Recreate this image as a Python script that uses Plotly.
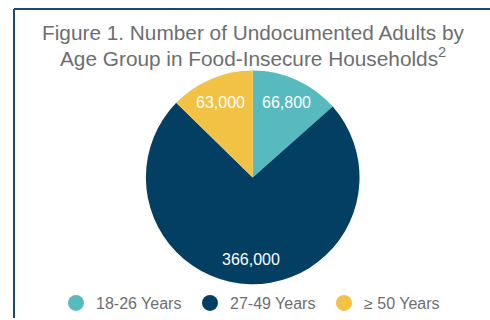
import math
import plotly.graph_objects as go

groups = ["18-26 Years", "27-49 Years", "≥ 50 Years"]
counts = [66800, 366000, 63000]
colors = ["#56BABF", "#033F63", "#F2C244"]
title_lines = ["Figure 1. Number of Undocumented Adults by",
               "Age Group in Food-Insecure Households<sup>2</sup>"]

W, H = 490, 320
font_family = "Liberation Sans, Arial, sans-serif"
gray = "#6D6E71"

# pie geometry (pixels)
px0, px1, py0, py1 = 144.7, 360.7, 71, 286
cx, cy = (px0 + px1) / 2, (py0 + py1) / 2
R = (py1 - py0) / 2

fig = go.Figure()
fig.add_trace(go.Pie(
    labels=groups, values=counts, sort=False, direction="clockwise", rotation=0,
    marker=dict(colors=colors, line=dict(width=0)),
    textinfo="none", showlegend=False, hoverinfo="label+value",
    domain=dict(x=[px0 / W, px1 / W], y=[1 - py1 / H, 1 - py0 / H]),
))
for g, c in zip(groups, colors):
    fig.add_trace(go.Scatter(x=[None], y=[None], mode="markers", name=g,
                             marker=dict(color=c, size=17, symbol="circle")))

annotations = []
for line, yc in zip(title_lines, [32.5, 57.5]):
    annotations.append(dict(text=line, xref="paper", yref="paper", x=253 / W, y=1 - yc / H,
                            xanchor="center", yanchor="middle", showarrow=False,
                            font=dict(size=20.8, color=gray, family=font_family)))

# value labels at 0.76 R along each slice's mid-angle (clockwise from 12 o'clock)
total = sum(counts)
cum = 0
for v in counts:
    mid = (cum + v / 2) / total * 2 * math.pi
    cum += v
    lx = cx + 0.765 * R * math.sin(mid)
    ly = cy - 0.765 * R * math.cos(mid)
    annotations.append(dict(text=f"{v:,}", xref="paper", yref="paper", x=lx / W, y=1 - ly / H,
                            xanchor="center", yanchor="middle", showarrow=False,
                            font=dict(size=16, color="white", family=font_family)))

fig.update_layout(
    width=W, height=H, margin=dict(l=0, r=0, t=0, b=0),
    paper_bgcolor="white", plot_bgcolor="white",
    font=dict(family=font_family, color=gray),
    xaxis=dict(visible=False), yaxis=dict(visible=False),
    annotations=annotations,
    legend=dict(orientation="h", x=56 / W, xanchor="left", y=1 - 305 / H, yanchor="middle",
                font=dict(size=16, color=gray, family=font_family),
                entrywidth=89, entrywidthmode="pixels", bgcolor="rgba(0,0,0,0)"),
    shapes=[
        dict(type="line", xref="paper", yref="paper", x0=14 / W, x1=1, y0=1 - 9 / H, y1=1 - 9 / H,
             line=dict(color="#1F4B6B", width=2)),
        dict(type="line", xref="paper", yref="paper", x0=14 / W, x1=14 / W, y0=0, y1=1 - 9 / H,
             line=dict(color="#1F4B6B", width=2)),
    ],
)
fig.write_html("out.html")
